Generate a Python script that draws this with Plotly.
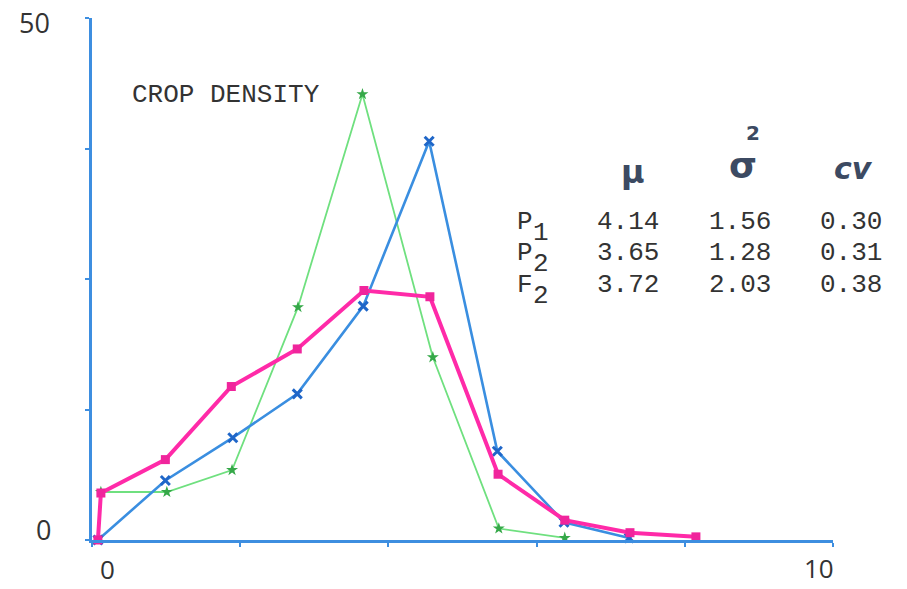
import plotly.graph_objects as go

# ---- data ----
x_p1 = [0.08, 0.99, 1.90, 2.77, 3.66, 4.55, 5.47, 6.37, 7.25]
y_p1 = [0.0, 5.7, 9.8, 14.0, 22.4, 38.2, 8.5, 1.7, 0.2]

x_p2 = [0.12, 1.01, 1.89, 2.78, 3.65, 4.60, 5.49, 6.38]
y_p2 = [4.6, 4.6, 6.7, 22.3, 42.7, 17.5, 1.1, 0.2]

x_f2 = [0.08, 0.12, 0.99, 1.88, 2.77, 3.67, 4.56, 5.48, 6.38, 7.26, 8.15]
y_f2 = [0.0, 4.5, 7.7, 14.7, 18.3, 23.9, 23.3, 6.3, 1.9, 0.7, 0.3]

row_names = ["P", "P", "F"]
row_subs = ["1", "2", "2"]
mu_vals = ["4.14", "3.65", "3.72"]
var_vals = ["1.56", "1.28", "2.03"]
cv_vals = ["0.30", "0.31", "0.38"]

chart_title = "CROP DENSITY"
x_tick_labels = ["0", "10"]
y_tick_labels = ["0", "50"]

# ---- geometry helpers (pixel -> paper) ----
W, H = 907, 589
L, R, T, B = 92, 833, 18, 540


def px(x):
    return (x - L) / (R - L)


def py(y):
    return (B - y) / (B - T)


AXIS_BLUE = "#3d8ee0"
fig = go.Figure()

fig.add_trace(go.Scatter(
    x=x_p2, y=y_p2, mode="lines+markers", name="P2",
    line=dict(color="#6fe07f", width=1.8),
    marker=dict(symbol="star", size=9, color="#35a848"),
    cliponaxis=False))
fig.add_trace(go.Scatter(
    x=x_p1, y=y_p1, mode="lines+markers", name="P1",
    line=dict(color="#3a8ee0", width=2.6),
    marker=dict(symbol="x-thin", size=9, line=dict(color="#1f66c8", width=3)),
    cliponaxis=False))
fig.add_trace(go.Scatter(
    x=x_f2, y=y_f2, mode="lines+markers", name="F2",
    line=dict(color="#ff2aa8", width=4),
    marker=dict(symbol="square", size=9, color="#f0259c"),
    cliponaxis=False))

mono = "Courier New, Courier, Nimbus Mono PS, FreeMono, Liberation Mono, monospace"
txt = "#333333"
ann = []
ann.append(dict(text=chart_title, x=px(226), y=py(95), font=dict(family=mono, size=26, color=txt)))

# header
hdr = "#3c4a62"
ann.append(dict(text="<b>μ</b>", x=px(633), y=py(172), font=dict(family="DejaVu Sans", size=32, color=hdr)))
ann.append(dict(text="<b>σ</b>", x=px(743), y=py(165), font=dict(family="DejaVu Sans", size=36, color=hdr)))
ann.append(dict(text="<b>2</b>", x=px(753), y=py(133), font=dict(family="DejaVu Sans", size=20, color=hdr)))
ann.append(dict(text="<b><i>cv</i></b>", x=px(853), y=py(168), font=dict(family="DejaVu Sans", size=30, color=hdr)))

row_y = [222, 253, 285]
for i in range(3):
    yc = row_y[i]
    ann.append(dict(text=row_names[i], x=px(525), y=py(yc), font=dict(family=mono, size=26, color=txt)))
    ann.append(dict(text=row_subs[i], x=px(541), y=py(yc + 11), font=dict(family=mono, size=26, color=txt)))
    ann.append(dict(text=mu_vals[i], x=px(628), y=py(yc), font=dict(family=mono, size=26, color=txt)))
    ann.append(dict(text=var_vals[i], x=px(740), y=py(yc), font=dict(family=mono, size=26, color=txt)))
    ann.append(dict(text=cv_vals[i], x=px(851), y=py(yc), font=dict(family=mono, size=26, color=txt)))

# axis labels
lab = "#333333"
ann.append(dict(text=y_tick_labels[1], x=px(34), y=py(23), font=dict(family="Open Sans", size=27, color=lab)))
ann.append(dict(text=y_tick_labels[0], x=px(43), y=py(529), font=dict(family="Open Sans", size=27, color=lab)))
ann.append(dict(text=x_tick_labels[0], x=px(107), y=py(569), font=dict(family="Open Sans", size=26, color=lab)))
ann.append(dict(text=x_tick_labels[1], x=px(819), y=py(568), font=dict(family="Open Sans", size=26, color=lab)))

for a in ann:
    a.update(xref="paper", yref="paper", showarrow=False, xanchor="center", yanchor="middle")

fig.update_layout(
    width=W, height=H,
    margin=dict(l=L, r=W - R, t=T, b=H - B),
    paper_bgcolor="white", plot_bgcolor="white",
    showlegend=False,
    annotations=ann,
    xaxis=dict(range=[0, 10], showgrid=False, zeroline=False, showline=True,
               linecolor=AXIS_BLUE, linewidth=3, ticks="outside", ticklen=4,
               tickwidth=2, tickcolor=AXIS_BLUE, dtick=2, tick0=0,
               showticklabels=False),
    yaxis=dict(range=[0, 50], showgrid=False, zeroline=False, showline=True,
               linecolor=AXIS_BLUE, linewidth=3, ticks="outside", ticklen=4,
               tickwidth=2, tickcolor=AXIS_BLUE, dtick=12.5, tick0=0,
               showticklabels=False),
)

fig.write_html("out.html", config={"displayModeBar": False},
               post_script="document.body.style.margin='0';document.body.style.overflow='hidden';")
